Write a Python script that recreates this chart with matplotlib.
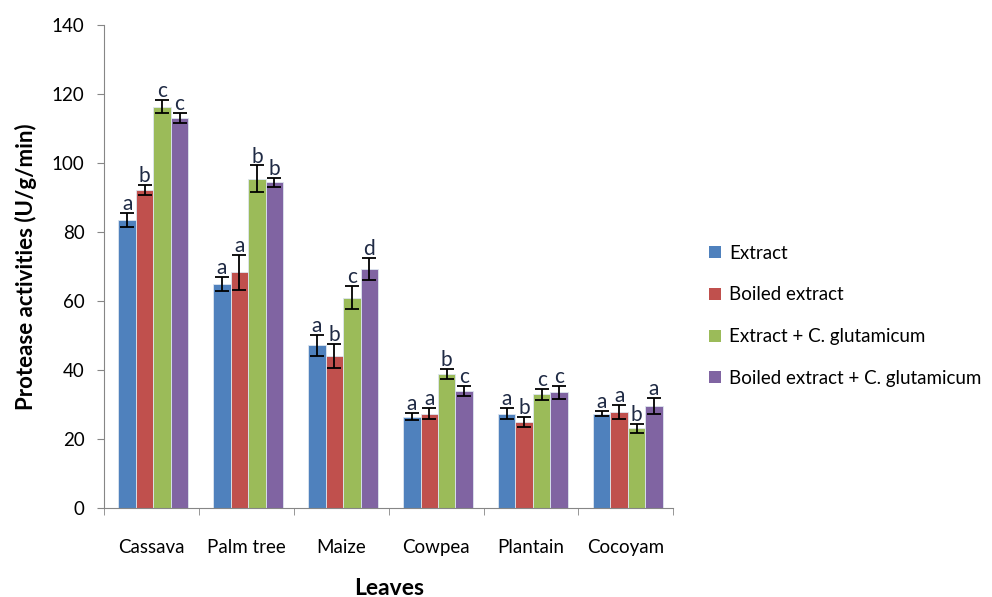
import matplotlib
matplotlib.use("Agg")
import matplotlib.pyplot as plt
from matplotlib.patches import Patch
import numpy as np

plt.rcParams['font.family'] = ['Lato', 'DejaVu Sans']

leaves = ["Cassava", "Palm tree", "Maize", "Cowpea", "Plantain", "Cocoyam"]
series = ["Extract", "Boiled extract", "Extract + C. glutamicum",
          "Boiled extract + C. glutamicum"]

extract = [83.5, 65.0, 47.2, 26.5, 27.4, 27.4]
boiled = [92.2, 68.3, 44.1, 27.4, 24.9, 27.8]
extract_cg = [116.3, 95.4, 61.0, 38.8, 33.0, 23.1]
boiled_cg = [113.0, 94.4, 69.2, 34.0, 33.5, 29.7]

err_extract = [1.9, 2.1, 3.1, 1.0, 1.7, 0.8]
err_boiled = [1.5, 5.0, 3.5, 1.7, 1.4, 2.0]
err_extract_cg = [1.9, 3.9, 3.4, 1.5, 1.6, 1.4]
err_boiled_cg = [1.4, 1.3, 3.2, 1.4, 1.8, 2.3]

let_extract = ["a", "a", "a", "a", "a", "a"]
let_boiled = ["b", "a", "b", "a", "b", "a"]
let_extract_cg = ["c", "b", "c", "b", "c", "b"]
let_boiled_cg = ["c", "b", "d", "c", "c", "a"]

values = [extract, boiled, extract_cg, boiled_cg]
errors = [err_extract, err_boiled, err_extract_cg, err_boiled_cg]
letters = [let_extract, let_boiled, let_extract_cg, let_boiled_cg]
colors = ["#4F81BD", "#C0504D", "#9BBB59", "#8064A2"]

fig = plt.figure(figsize=(9.92, 5.97), dpi=100)
ax = fig.add_axes([0.1048, 0.149, 0.574, 0.809])

centers = np.arange(len(leaves)) + 0.5
w = 0.184
for k in range(4):
    xs = centers + (k - 1.5) * w + 0.02
    ax.bar(xs, values[k], width=w, color=colors[k], edgecolor="#dde6f0",
           linewidth=0.6, zorder=2)
    ax.errorbar(xs, values[k], yerr=errors[k], fmt="none", ecolor="black",
                elinewidth=1.3, capsize=5, capthick=1.3, zorder=3)
    for x, v, e, t in zip(xs, values[k], errors[k], letters[k]):
        ax.text(x, v + e - 0.3, t, ha="center", va="bottom", fontsize=15,
                color="#1f2a44", zorder=4)

ax.set_xlim(0, 6)
ax.set_ylim(0, 140)
ax.set_yticks(np.arange(0, 141, 20))
ax.set_xticks(centers)
ax.set_xticklabels(leaves, fontsize=13.5)
ax.set_xticks(np.arange(0, 7), minor=True)
ax.tick_params(axis="x", which="major", length=0, pad=22)
ax.tick_params(axis="x", which="minor", length=5, color="#868686", direction="out")
ax.tick_params(axis="y", length=5, color="#868686", pad=9, labelsize=13.5)

for s in ["top", "right"]:
    ax.spines[s].set_visible(False)
for s in ["left", "bottom"]:
    ax.spines[s].set_color("#868686")

ax.set_ylabel("Protease activities (U/g/min)", fontsize=16, fontweight="bold",
              va="center")
ax.yaxis.set_label_coords(-0.137, 0.5)
ax.set_xlabel("Leaves", fontsize=16.5, fontweight="bold", va="center")
ax.xaxis.set_label_coords(0.5, -0.166)

handles = [Patch(facecolor=c, edgecolor="none") for c in colors]
fig.legend(handles, series, loc="center left", bbox_to_anchor=(0.698, 0.471),
           frameon=False, fontsize=13.5, handlelength=0.6, handleheight=0.6,
           handletextpad=0.45, labelspacing=1.32)

fig.savefig("out.png", dpi=100)
